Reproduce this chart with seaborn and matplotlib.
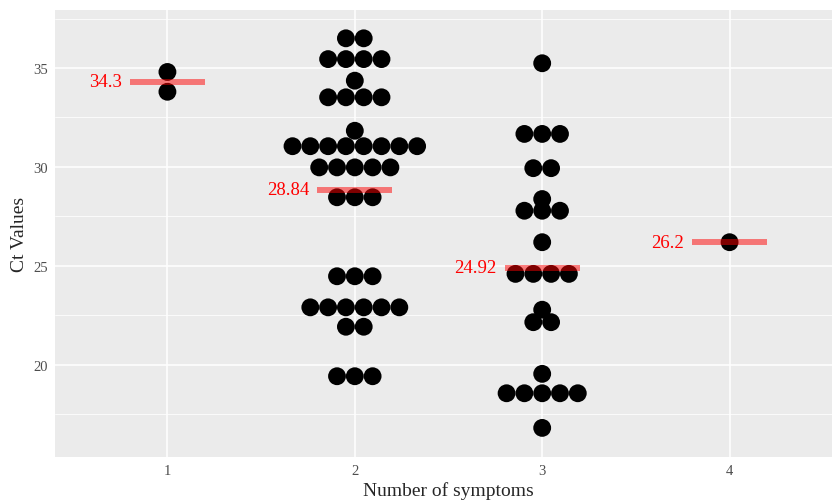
import numpy as np
import pandas as pd
import seaborn as sns
import matplotlib.pyplot as plt
from matplotlib.ticker import MultipleLocator

# Ct values per number of symptoms
symptoms = [1, 2, 3, 4]
ct_1 = [34.8, 33.8]
ct_2 = ([36.5] * 2 + [35.45] * 4 + [34.36] + [33.52] * 4 + [31.83] +
        [31.05] * 8 + [29.98] * 5 + [28.47] * 3 + [24.48] * 3 +
        [22.91] * 6 + [21.93] * 2 + [19.43] * 3)
ct_3 = ([35.24] + [31.67] * 3 + [29.94] * 2 + [28.38] + [27.79] * 3 +
        [26.2] + [24.6] * 4 + [22.79] + [22.16] * 2 + [19.55] +
        [18.57] * 5 + [16.82])
ct_4 = [26.2]
group_means = [34.3, 28.84, 24.92, 26.2]
mean_labels = ["34.3", "28.84", "24.92", "26.2"]

# Stack identical values side by side, centred on the group (like geom_dotplot)
dot_step = 0.095
rows = []
for s, vals in zip(symptoms, [ct_1, ct_2, ct_3, ct_4]):
    vals = pd.Series(vals)
    for v, n in vals.value_counts(sort=False).items():
        for i in range(n):
            rows.append({"x": s + (i - (n - 1) / 2) * dot_step, "ct": v})
df = pd.DataFrame(rows)

sns.set_style("darkgrid", {"axes.facecolor": "#EBEBEB", "grid.color": "white"})
plt.rcParams["font.family"] = ["Liberation Serif", "DejaVu Serif"]

fig = plt.figure(figsize=(8.32, 5.02), dpi=100)
ax = fig.add_axes([55 / 832, 44 / 502, 787 / 832, 447 / 502])

sns.scatterplot(data=df, x="x", y="ct", color="black", s=165,
                edgecolor="none", ax=ax, zorder=3, legend=False)

# mean bars and labels
ax.hlines(group_means, np.array(symptoms) - 0.2, np.array(symptoms) + 0.2,
          color="red", alpha=0.5, lw=4.3, zorder=4)
for s, m, lab in zip(symptoms, group_means, mean_labels):
    ax.text(s - 0.245, m, lab, color="red", ha="right", va="center",
            fontsize=13.5, zorder=5)

ax.set_xlim(0.4, 4.6)
ax.set_ylim(15.35, 37.93)
ax.set_xticks(symptoms)
ax.set_xticklabels([str(s) for s in symptoms])
ax.yaxis.set_major_locator(MultipleLocator(5))
ax.yaxis.set_minor_locator(MultipleLocator(2.5))
ax.grid(which="major", color="white", lw=1.1)
ax.grid(which="minor", axis="y", color="white", lw=0.55)
ax.tick_params(which="major", length=3, width=0.8, color="#333333",
               labelcolor="#4D4D4D", labelsize=10.5, pad=2)
ax.tick_params(which="minor", length=0)
for sp in ax.spines.values():
    sp.set_visible(False)

ax.set_xlabel("Number of symptoms", fontsize=14, labelpad=3)
ax.set_ylabel("Ct Values", fontsize=14, labelpad=4)

fig.savefig("out.png", dpi=100)
